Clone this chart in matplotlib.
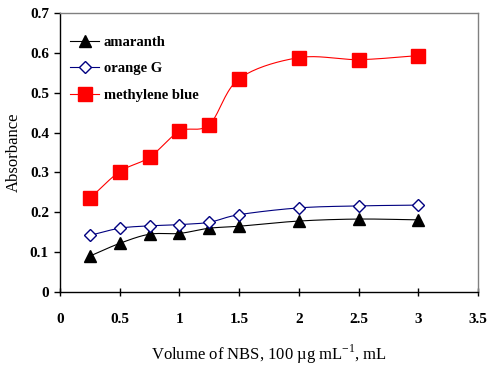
import numpy as np
import matplotlib
matplotlib.use("Agg")
import matplotlib.pyplot as plt

volume = [0.25, 0.5, 0.75, 1.0, 1.25, 1.5, 2.0, 2.5, 3.0]
amaranth = [0.090, 0.122, 0.145, 0.147, 0.160, 0.165, 0.178, 0.183, 0.181]
orange_g = [0.142, 0.160, 0.166, 0.169, 0.175, 0.194, 0.211, 0.216, 0.218]
methylene_blue = [0.235, 0.302, 0.338, 0.403, 0.420, 0.535, 0.588, 0.583, 0.593]
x_ticks = [0, 0.5, 1, 1.5, 2, 2.5, 3, 3.5]
y_ticks = [0, 0.1, 0.2, 0.3, 0.4, 0.5, 0.6, 0.7]


def smooth(x, y, n=20):
    x = np.asarray(x, float)
    y = np.asarray(y, float)
    px = np.concatenate([[2 * x[0] - x[1]], x, [2 * x[-1] - x[-2]]])
    py = np.concatenate([[2 * y[0] - y[1]], y, [2 * y[-1] - y[-2]]])
    xs, ys = [], []
    for i in range(1, len(px) - 2):
        t = np.linspace(0, 1, n, endpoint=(i == len(px) - 3))
        for arr, out in ((px, xs), (py, ys)):
            p0, p1, p2, p3 = arr[i - 1], arr[i], arr[i + 1], arr[i + 2]
            m1 = (p2 - p0) / 2 / 3
            m2 = (p3 - p1) / 2 / 3
            c1 = p1 + m1
            c2 = p2 - m2
            out.extend((1 - t) ** 3 * p1 + 3 * (1 - t) ** 2 * t * c1
                       + 3 * (1 - t) * t ** 2 * c2 + t ** 3 * p2)
    return xs, ys


plt.rcParams['font.family'] = ['Liberation Serif', 'DejaVu Serif']
plt.rcParams['mathtext.fontset'] = 'custom'
plt.rcParams['mathtext.rm'] = 'Liberation Serif'

fig = plt.figure(figsize=(4.87, 3.66), dpi=100)
ax = fig.add_axes([0.1232, 0.2022, 0.8583, 0.7623])

series = [
    ("amaranth", amaranth, "black", "^", 8, "black"),
    ("orange G", orange_g, "#000080", "D", 6, "white"),
    ("methylene blue", methylene_blue, "#ff0000", "s", 10, "#ff0000"),
]
handles = []
for name, vals, col, mk, ms, fc in series:
    sx, sy = smooth(volume, vals)
    ax.plot(sx, sy, color=col, lw=0.8, zorder=2)
    ax.plot(volume, vals, ls="none", marker=mk, ms=ms, mfc=fc, mec=col,
            mew=1.0, zorder=3)
    h, = ax.plot([], [], color=col, lw=0.8, marker=mk, ms=ms, mfc=fc,
                 mec=col, mew=1.0)
    handles.append(h)

ax.set_xlim(0, 3.5)
ax.set_ylim(0, 0.7)
ax.set_xticks(x_ticks)
ax.set_xticklabels([f"{v:g}" for v in x_ticks])
ax.set_yticks(y_ticks)
ax.set_yticklabels([f"{v:g}" for v in y_ticks])
for lab in ax.get_xticklabels() + ax.get_yticklabels():
    lab.set_fontweight("bold")
    lab.set_fontsize(11)
ax.tick_params(axis="x", direction="inout", length=6, width=1, pad=12)
ax.tick_params(axis="y", direction="out", length=4, width=1, pad=4)

for s in ("top", "right"):
    ax.spines[s].set_color("#808080")
    ax.spines[s].set_linewidth(1.0)
for s in ("left", "bottom"):
    ax.spines[s].set_color("black")
    ax.spines[s].set_linewidth(1.0)

ax.set_xlabel(r"Volume of NBS, 100 µg mL$^{\mathregular{-1}}$, mL",
              fontsize=12, labelpad=12)
ax.set_ylabel("Absorbance", fontsize=12, labelpad=6)

leg = ax.legend(handles, [s[0] for s in series], loc="upper left",
                bbox_to_anchor=(0.0, 0.955), frameon=False,
                prop={"weight": "bold", "size": 10.5}, handlelength=2.0,
                handletextpad=0.3, labelspacing=0.9, borderaxespad=0.3)

fig.savefig("out.png", dpi=100)
